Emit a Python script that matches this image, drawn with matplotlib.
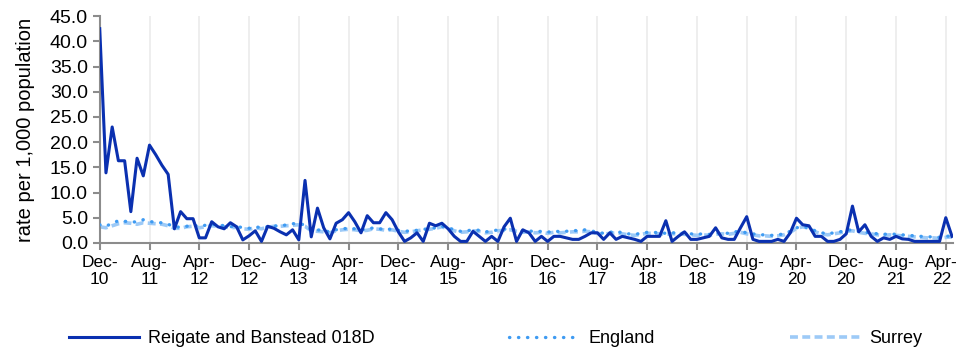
import matplotlib
matplotlib.use("Agg")
import matplotlib.pyplot as plt
import pandas as pd

# monthly rates per 1,000 population, Dec 2010 onwards
reigate = [42.5, 13.9, 23.0, 16.3, 16.3, 6.2, 16.8, 13.3, 19.4, 17.5,
           15.4, 13.6, 2.8, 6.2, 4.8, 4.8, 1.0, 1.0, 4.2, 3.2,
           2.8, 4.0, 3.2, 0.6, 1.4, 2.4, 0.3, 3.3, 2.9, 2.2,
           1.6, 2.6, 0.6, 12.4, 1.2, 6.9, 3.0, 0.8, 3.9, 4.6,
           6.0, 4.2, 2.0, 5.4, 4.0, 4.0, 6.0, 4.6, 2.2, 0.3,
           1.0, 2.0, 0.3, 3.9, 3.4, 3.9, 2.8, 1.3, 0.3, 0.3,
           2.3, 1.3, 0.3, 1.3, 0.3, 3.2, 4.9, 0.3, 2.6, 2.0,
           0.3, 1.3, 0.3, 1.3, 1.3, 1.0, 0.7, 0.7, 1.3, 2.0,
           2.0, 0.7, 2.0, 0.7, 1.3, 1.0, 0.7, 0.3, 1.3, 1.3,
           1.3, 4.4, 0.3, 1.3, 2.2, 0.7, 0.7, 1.0, 1.3, 3.0,
           1.0, 0.7, 0.7, 3.0, 5.2, 0.7, 0.3, 0.3, 0.3, 0.7,
           0.3, 2.0, 4.9, 3.6, 3.4, 1.3, 1.3, 0.3, 0.3, 0.7,
           1.8, 7.3, 2.2, 3.6, 1.3, 0.3, 1.0, 0.7, 1.3, 0.8,
           0.7, 0.3, 0.3, 0.3, 0.3, 0.3, 5.0, 1.3]

england = [3.6, 3.3, 3.9, 4.4, 4.3, 4.1, 4.2, 4.6, 4.3, 4.0,
           4.0, 3.7, 3.2, 3.1, 3.3, 3.5, 3.3, 3.5, 3.7, 3.6,
           3.4, 3.2, 3.3, 3.0, 2.9, 3.2, 3.0, 3.2, 3.4, 3.3,
           3.6, 3.8, 3.9, 3.5, 2.6, 2.6, 2.4, 2.2, 2.6, 2.8,
           2.9, 2.8, 2.6, 2.7, 3.0, 2.8, 2.6, 2.8, 2.5, 2.3,
           2.4, 2.5, 2.7, 2.8, 3.0, 3.3, 3.0, 2.6, 2.3, 2.4,
           2.6, 2.5, 2.2, 2.3, 2.6, 2.7, 2.9, 2.5, 2.3, 2.4,
           2.2, 2.3, 2.1, 2.4, 2.2, 2.3, 2.5, 2.4, 2.6, 2.4,
           2.1, 1.9, 2.1, 2.3, 2.0, 1.8, 1.7, 1.9, 2.1, 2.1,
           2.0, 1.9, 2.0, 2.0, 1.9, 1.8, 1.7, 1.8, 1.7, 1.9,
           2.0, 1.9, 2.2, 2.3, 2.0, 1.8, 1.6, 1.6, 1.5, 1.6,
           1.8, 2.3, 3.0, 3.2, 3.0, 2.4, 2.0, 1.8, 2.0, 2.2,
           2.5, 2.6, 2.3, 2.1, 2.0, 1.8, 1.7, 1.8, 1.7, 1.6,
           1.5, 1.4, 1.3, 1.2, 1.2, 1.1, 1.3, 1.4]

surrey = [3.2, 3.0, 3.4, 3.8, 4.0, 3.9, 3.7, 4.0, 3.9, 3.8,
          3.7, 3.4, 2.9, 2.9, 3.2, 3.3, 3.0, 3.2, 3.4, 3.3,
          3.2, 3.0, 3.1, 2.8, 2.7, 3.0, 2.8, 3.1, 3.3, 3.3,
          3.4, 3.5, 3.6, 3.3, 2.4, 2.3, 2.2, 2.0, 2.4, 2.6,
          2.7, 2.6, 2.4, 2.5, 2.8, 2.7, 2.5, 2.6, 2.3, 2.1,
          2.2, 2.4, 2.6, 2.7, 2.9, 3.2, 2.8, 2.4, 2.1, 2.2,
          2.4, 2.3, 2.0, 2.1, 2.4, 2.5, 2.6, 2.3, 2.1, 2.2,
          2.0, 2.1, 1.9, 2.1, 2.0, 2.1, 2.2, 2.2, 2.3, 2.2,
          1.9, 1.7, 1.9, 2.0, 1.8, 1.6, 1.5, 1.7, 1.9, 1.9,
          1.8, 1.7, 1.8, 1.8, 1.7, 1.6, 1.5, 1.6, 1.5, 1.7,
          1.8, 1.7, 1.9, 2.1, 1.8, 1.6, 1.4, 1.4, 1.3, 1.4,
          1.6, 2.1, 2.9, 3.2, 2.9, 2.2, 1.8, 1.6, 1.8, 2.0,
          2.3, 2.4, 2.1, 1.9, 1.8, 1.6, 1.5, 1.6, 1.5, 1.4,
          1.3, 1.2, 1.1, 1.0, 1.0, 0.9, 1.1, 1.2]

months = pd.date_range("2010-12-01", periods=len(reigate), freq="MS")
x = list(range(len(months)))
tick_pos = x[::8]
tick_labels = [m.strftime("%b-\n%y") for m in months[::8]]

plt.rcParams['font.family'] = ['Liberation Sans', 'DejaVu Sans']

fig = plt.figure(figsize=(9.59, 3.5), dpi=100)
ax = fig.add_axes([0.104, 0.306, 0.89, 0.648])

ax.plot(x, surrey, color='#9dcaf7', lw=2.6, ls=(0, (2.2, 1.2)), label='Surrey', zorder=2)
ax.plot(x, england, color='#3f9bf2', lw=2.4, ls=(0, (0.1, 2.6)), dash_capstyle='round',
        label='England', zorder=3)
ax.plot(x, reigate, color='#0a30b0', lw=2.2, label='Reigate and Banstead 018D', zorder=4)

ax.set_xlim(0, 137.2)
ax.set_ylim(0, 45)
ax.set_yticks(range(0, 46, 5))
ax.set_yticklabels([f"{v:.1f}" for v in range(0, 46, 5)], fontsize=14)
ax.set_xticks(tick_pos)
# the last label sits at the right edge, so it is drawn separately, nudged left
ax.set_xticklabels(tick_labels[:-1] + [''], multialignment='center', fontsize=12.5)
ax.annotate(tick_labels[-1], xy=(tick_pos[-1], 0), xycoords=('data', 'axes fraction'),
            xytext=(-3, -8.5), textcoords='offset points', ha='center', va='top',
            multialignment='center', fontsize=12.5)
ax.set_ylabel('rate per 1,000 population', fontsize=14.5, labelpad=11)

ax.xaxis.grid(True, color='#ebebeb', lw=1.2)
ax.set_axisbelow(True)
for side in ['top', 'right']:
    ax.spines[side].set_visible(False)
for side in ['left', 'bottom']:
    ax.spines[side].set_color('#8c8c8c')
    ax.spines[side].set_linewidth(1.5)
ax.tick_params(colors='#8c8c8c', labelcolor='black', width=1.5, length=5)

handles, labels = ax.get_legend_handles_labels()
order = [2, 1, 0]
fig.legend([handles[i] for i in order], [labels[i] for i in order],
           loc='lower left', bbox_to_anchor=(0.064, -0.012, 0.905, 0.09), mode='expand',
           ncol=3, frameon=False, fontsize=13, handlelength=3.9, handletextpad=0.5,
           borderaxespad=0)

fig.savefig('out.png', dpi=100)
